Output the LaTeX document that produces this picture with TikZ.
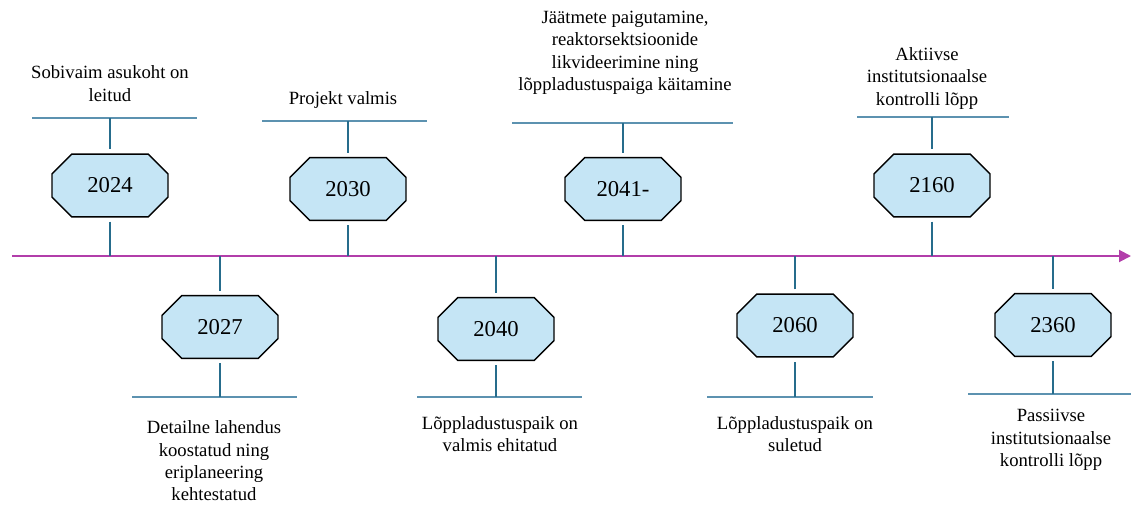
\documentclass[tikz,border=0pt]{standalone}
\usepackage{fontspec}
\setmainfont{Liberation Serif}
\usetikzlibrary{shapes.misc, arrows.meta}
\definecolor{timecol}{RGB}{178,62,170}
\definecolor{stemcol}{RGB}{38,108,140}
\definecolor{barcol}{RGB}{92,146,176}
\definecolor{yearfill}{RGB}{197,229,245}
\tikzstyle{year} = [chamfered rectangle, chamfered rectangle xsep=15pt, chamfered rectangle ysep=9pt, draw=black, line width=1.1pt, fill=yearfill, minimum width=87pt, minimum height=47pt, inner sep=0pt, font=\fontsize{17}{20}\selectfont]
\tikzstyle{note} = [align=center, inner sep=0pt, font=\fontsize{14}{16.8}\selectfont]
\tikzstyle{stem} = [draw=stemcol, line width=1.2pt]
\tikzstyle{bar} = [draw=barcol, line width=1.8pt]
\tikzstyle{timeline} = [draw=timecol, line width=1.5pt, -{Triangle[length=9pt, width=9pt]}]

\begin{document}
\begin{tikzpicture}[x=0.75pt, y=-0.75pt]
        \useasboundingbox (0,0) rectangle (1131,506);

        % time axis
        \coordinate (start) at (12,256);
        \coordinate (end) at (1131,256);
        \draw [timeline] (start) -- (end);

        % years above
        \node [year] (y2024) at (110,185.5) {2024};
        \node [year] (y2030) at (348,189) {2030};
        \node [year] (y2041) at (623,189) {2041-};
        \node [year] (y2160) at (932,185.5) {2160};
        % years below
        \node [year] (y2027) at (220,327) {2027};
        \node [year] (y2040) at (496,329) {2040};
        \node [year] (y2060) at (795,325.5) {2060};
        \node [year] (y2360) at (1053,325) {2360};

        % points on the axis
        \coordinate (a2024) at (110,256);
        \coordinate (a2030) at (348,256);
        \coordinate (a2041) at (623,256);
        \coordinate (a2160) at (932,256);
        \coordinate (a2027) at (220,256);
        \coordinate (a2040) at (496,256);
        \coordinate (a2060) at (795,256);
        \coordinate (a2360) at (1053,256);

        % bars
        \coordinate (b2024) at (110,118);
        \coordinate (b2030) at (348,121);
        \coordinate (b2041) at (623,123);
        \coordinate (b2160) at (932,117);
        \coordinate (b2027) at (220,397);
        \coordinate (b2040) at (496,397);
        \coordinate (b2060) at (795,397);
        \coordinate (b2360) at (1053,394);
        \draw [bar] (32,118) -- (197,118);
        \draw [bar] (262,121) -- (427,121);
        \draw [bar] (512,123) -- (733,123);
        \draw [bar] (857,117) -- (1009,117);
        \draw [bar] (132,397) -- (297,397);
        \draw [bar] (417,397) -- (582,397);
        \draw [bar] (707,397) -- (873,397);
        \draw [bar] (968,394) -- (1131,394);

        % stems
        \draw [stem, shorten <=3pt] (y2024.south) -- (a2024);
        \draw [stem, shorten <=3pt] (y2030.south) -- (a2030);
        \draw [stem, shorten <=3pt] (y2041.south) -- (a2041);
        \draw [stem, shorten <=3pt] (y2160.south) -- (a2160);
        \draw [stem, shorten <=3pt] (y2027.north) -- (a2027);
        \draw [stem, shorten <=3pt] (y2040.north) -- (a2040);
        \draw [stem, shorten <=3pt] (y2060.north) -- (a2060);
        \draw [stem, shorten <=3pt] (y2360.north) -- (a2360);
        \draw [stem, shorten >=3pt] (b2024) -- (y2024.north);
        \draw [stem, shorten >=3pt] (b2030) -- (y2030.north);
        \draw [stem, shorten >=3pt] (b2041) -- (y2041.north);
        \draw [stem, shorten >=3pt] (b2160) -- (y2160.north);
        \draw [stem, shorten >=3pt] (b2027) -- (y2027.south);
        \draw [stem, shorten >=3pt] (b2040) -- (y2040.south);
        \draw [stem, shorten >=3pt] (b2060) -- (y2060.south);
        \draw [stem, shorten >=3pt] (b2360) -- (y2360.south);

        % texts
        \node [note] (n2024) at (110,83.5) {Sobivaim asukoht on\\leitud};
        \node [note] (n2030) at (343,100) {Projekt valmis};
        \node [note] (n2041) at (625,53) {Jäätmete paigutamine,\\reaktorsektsioonide\\likvideerimine ning\\lõppladustuspaiga käitamine};
        \node [note] (n2160) at (927,78.5) {Aktiivse\\institutsionaalse\\kontrolli lõpp};
        \node [note] (n2027) at (214,461) {Detailne lahendus\\koostatud ning\\eriplaneering\\kehtestatud};
        \node [note] (n2040) at (500,434) {Lõppladustuspaik on\\valmis ehitatud};
        \node [note] (n2060) at (795,434) {Lõppladustuspaik on\\suletud};
        \node [note] (n2360) at (1051,440) {Passiivse\\institutsionaalse\\kontrolli lõpp};
\end{tikzpicture}
\end{document}
